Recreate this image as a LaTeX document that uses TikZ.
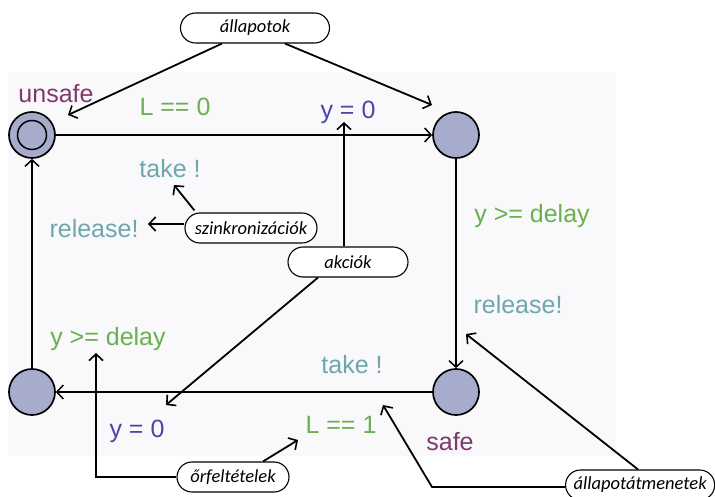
\documentclass[tikz,border=0pt]{standalone}
\usepackage{fontspec}
\setmainfont{Liberation Sans}
\newfontfamily\annotfont{Carlito}
\usetikzlibrary{arrows.meta}
\definecolor{bgcol}{RGB}{249,249,251}
\definecolor{statecol}{RGB}{168,172,204}
\definecolor{guardcol}{RGB}{106,176,80}
\definecolor{assigncol}{RGB}{72,72,170}
\definecolor{synccol}{RGB}{110,166,174}
\definecolor{namecol}{RGB}{125,58,106}
\tikzset{
  statenode/.style={circle, draw=black, line width=1.7pt, fill=statecol, minimum size=46pt, inner sep=0pt},
  edgeline/.style={line width=1.7pt, -{Straight Barb[length=6.5pt,width=14pt,line width=1.5pt]}},
  annline/.style={line width=1.8pt, -{Straight Barb[length=6.5pt,width=14pt,line width=1.6pt]}},
  lbl/.style={anchor=base, inner sep=0pt, font=\fontsize{25pt}{30pt}\selectfont},
  pill/.style={draw=black, fill=white, line width=1.1pt, rounded corners=15pt, minimum height=30pt, inner xsep=8pt, inner ysep=0pt, font=\annotfont\itshape\fontsize{18.5pt}{22pt}\selectfont}
}
\begin{document}
\begin{tikzpicture}[x=1pt,y=-1pt]
\useasboundingbox (0,0) rectangle (715,497);
\fill[bgcol] (8,72) rectangle (616,456);
% states
\node[statenode] (unsafe) at (32,135) {};
\draw[line width=1.5pt] (unsafe.center) circle (14.5pt);
\node[statenode] (tr) at (456,135) {};
\node[statenode] (safe) at (456,392) {};
\node[statenode] (bl) at (32,392) {};
% edges
\draw[edgeline] (unsafe) -- (tr);
\draw[edgeline] (tr) -- (safe);
\draw[edgeline] (safe) -- (bl);
\draw[edgeline] (bl) -- (unsafe);
% labels
\node[lbl, text=namecol] (lunsafe) at (56,103) {unsafe};
\node[lbl, text=namecol] (lsafe) at (450,450) {safe};
\node[lbl, text=guardcol] (g1) at (175,116) {L == 0};
\node[lbl, text=assigncol] (a1) at (348,119) {y = 0};
\node[lbl, text=synccol] (s1) at (170,178) {take !};
\node[lbl, text=synccol] (s2) at (94,237) {release!};
\node[lbl, text=guardcol] (g2) at (532,223) {y >= delay};
\node[lbl, text=synccol] (s3) at (518,313) {release!};
\node[lbl, text=guardcol] (g3) at (108,345) {y >= delay};
\node[lbl, text=synccol] (s4) at (352,373) {take !};
\node[lbl, text=assigncol] (a2) at (137,437) {y = 0};
\node[lbl, text=guardcol] (g4) at (341,433) {L == 1};
% annotation pills
\node[pill, minimum width=149pt] (allap) at (255,28) {állapotok};
\node[pill, minimum width=132pt] (szink) at (251,228) {szinkronizációk};
\node[pill, minimum width=120pt] (akc) at (348,262) {akciók};
\node[pill, minimum width=112pt] (orf) at (233,477) {őrfeltételek};
\node[pill, anchor=west] (atm) at (565,485) {állapotátmenetek};
% tip coordinates
\coordinate (tUnsafe) at (68,115);
\coordinate (tTR) at (432,105);
\coordinate (tTake) at (174,185);
\coordinate (tRel) at (148,224);
\coordinate (tY0t) at (344,122);
\coordinate (tY0b) at (166,405);
\coordinate (tGuard) at (96,353);
\coordinate (bGuard) at (96,477);
\coordinate (tL1) at (298,440);
\coordinate (tRelR) at (466,334);
\coordinate (tL1b) at (383,405);
\coordinate (bL1b) at (432,487);
% annotation connectors
\draw[annline] ([xshift=-33pt]allap.south) -- (tUnsafe);
\draw[annline] ([xshift=30pt]allap.south) -- (tTR);
\draw[annline] ([xshift=10pt,yshift=2pt]szink.north west) -- (tTake);
\draw[annline] ([yshift=4pt]szink.west) -- (tRel);
\draw[annline] ([xshift=-4pt]akc.north) -- (tY0t);
\draw[annline] ([xshift=-30pt]akc.south) -- (tY0b);
\draw[annline] (orf.west) -- (bGuard) -- (tGuard);
\draw[annline] ([xshift=30pt]orf.north) -- (tL1);
\draw[annline] ([xshift=73pt]atm.north west) -- (tRelR);
\draw[annline] ([yshift=-2pt]atm.west) -- (bL1b) -- (tL1b);
\end{tikzpicture}
\end{document}
